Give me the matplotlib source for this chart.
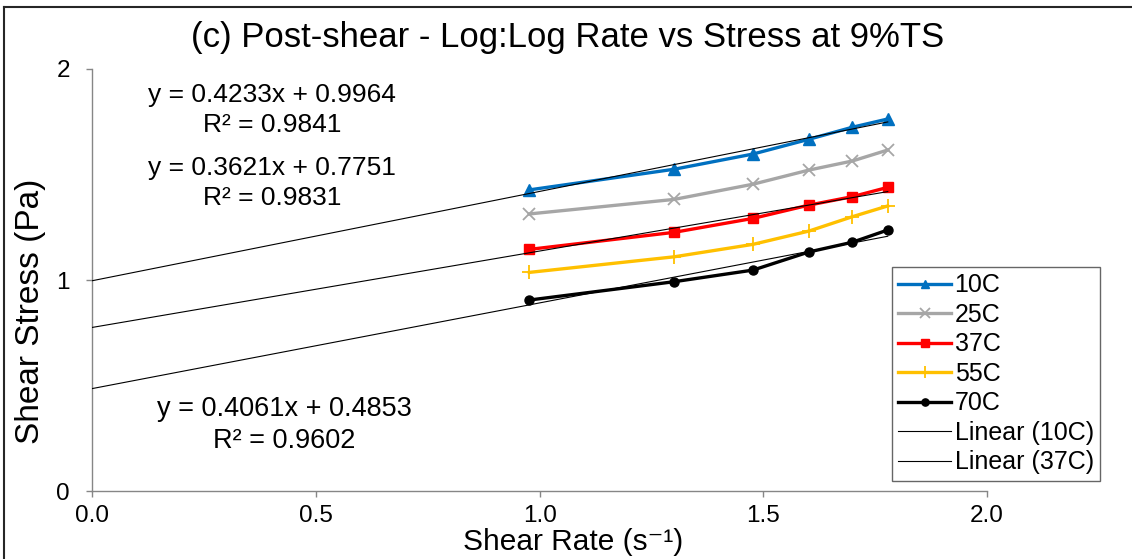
import numpy as np
import matplotlib.pyplot as plt
from matplotlib.lines import Line2D

plt.rcParams['font.family'] = ['Liberation Sans', 'DejaVu Sans']

# log10 shear rate (x) and log10 shear stress for each temperature
log_rate = [0.977, 1.301, 1.477, 1.602, 1.699, 1.778]
stress_10c = [1.427, 1.525, 1.597, 1.667, 1.724, 1.763]
stress_25c = [1.313, 1.382, 1.454, 1.521, 1.564, 1.616]
stress_37c = [1.145, 1.226, 1.292, 1.355, 1.395, 1.439]
stress_55c = [1.036, 1.110, 1.169, 1.232, 1.300, 1.351]
stress_70c = [0.905, 0.992, 1.047, 1.133, 1.179, 1.237]

# fitted trendlines (slope, intercept, r2)
fit_10c = (0.4233, 0.9964, 0.9841)
fit_37c = (0.3621, 0.7751, 0.9831)
fit_70c = (0.4061, 0.4853, 0.9602)

series = [
    ('10C', stress_10c, '#0070C0', '^', 8),
    ('25C', stress_25c, '#A6A6A6', 'x', 9),
    ('37C', stress_37c, '#FF0000', 's', 7),
    ('55C', stress_55c, '#FFC000', '+', 10),
    ('70C', stress_70c, '#000000', 'o', 6.5),
]

fig = plt.figure(figsize=(11.32, 5.59), dpi=100)
ax = fig.add_axes([0.0813, 0.1216, 0.7907, 0.755])

for name, ys, col, mk, ms in series:
    ax.plot(log_rate, ys, color=col, lw=2.4, marker=mk, ms=ms,
            mew=1.3 if mk in ('x', '+') else 1, label=name, zorder=3)

xfit = np.array([0.0, max(log_rate)])
for lbl, (m, c, r2) in [('Linear (10C)', fit_10c), ('Linear (37C)', fit_37c),
                        (None, fit_70c)]:
    ax.plot(xfit, m * xfit + c, color='black', lw=0.8, label=lbl, zorder=4)

eq_style = dict(ha='center', va='center', fontsize=19, linespacing=1.3,
                multialignment='center')
ax.text(0.402, 1.806, f'y = {fit_10c[0]}x + {fit_10c[1]}\nR² = {fit_10c[2]}', **eq_style)
ax.text(0.402, 1.46, f'y = {fit_37c[0]}x + {fit_37c[1]}\nR² = {fit_37c[2]}', **eq_style)
ax.text(0.429, 0.313, f'y = {fit_70c[0]}x + {fit_70c[1]}\nR² = {fit_70c[2]}',
        fontsize=19.5, ha='center', va='center', linespacing=1.3,
        multialignment='center')

ax.set_xlim(0, 2)
ax.set_ylim(0, 2)
ax.set_xticks([0.0, 0.5, 1.0, 1.5, 2.0])
ax.set_xticklabels(['0.0', '0.5', '1.0', '1.5', '2.0'])
ax.set_yticks([0, 1, 2])
ax.tick_params(labelsize=17.5, color='#868686', length=4, width=1)
ax.tick_params(axis='x', pad=6)
ax.tick_params(axis='y', pad=12)
for side in ('top', 'right'):
    ax.spines[side].set_visible(False)
for side in ('left', 'bottom'):
    ax.spines[side].set_color('#868686')
    ax.spines[side].set_linewidth(1)

ax.set_xlabel('Shear Rate (s⁻¹)', fontsize=21.5, va='center')
ax.xaxis.set_label_coords(0.537, -0.12)
ax.set_ylabel('Shear Stress (Pa)', fontsize=24, va='center')
ax.yaxis.set_label_coords(-0.069, 0.425)
fig.suptitle('(c) Post-shear - Log:Log Rate vs Stress at 9%TS', fontsize=25,
             x=568 / 1132, y=1 - 38 / 559, va='center')

handles, labels = ax.get_legend_handles_labels()
leg = ax.legend(handles, labels, loc='upper right', fontsize=18,
                bbox_to_anchor=(1100 / 1132, 1 - 267 / 559),
                bbox_transform=fig.transFigure, frameon=True, fancybox=False,
                edgecolor='#404040', handlelength=2.1, handletextpad=0.15,
                labelspacing=0.22, borderpad=0.25, borderaxespad=0,
                markerscale=0.8)
leg.get_frame().set_linewidth(1)

# outer frame on the top and left edges
fig.add_artist(Line2D([4 / 1132, 4 / 1132], [0, 1 - 7 / 559], color='#262626',
                      lw=1.5, transform=fig.transFigure))
fig.add_artist(Line2D([4 / 1132, 1], [1 - 7 / 559, 1 - 7 / 559], color='#262626',
                      lw=1.5, transform=fig.transFigure))

fig.savefig('out.png', dpi=100)
